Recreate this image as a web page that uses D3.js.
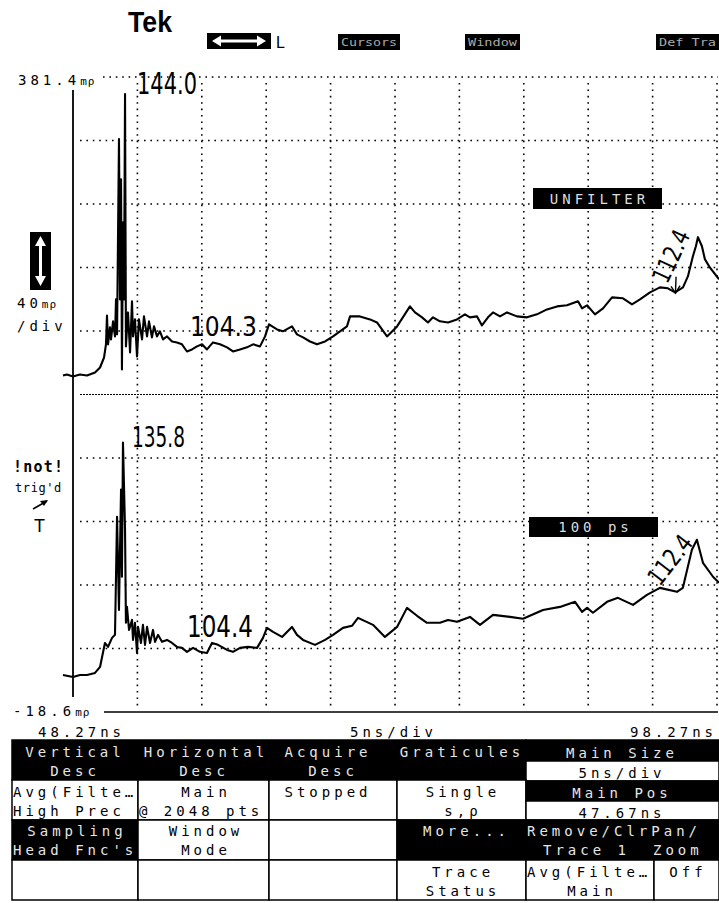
<!DOCTYPE html>
<html>
<head>
<meta charset="utf-8">
<script src="https://cdn.jsdelivr.net/npm/d3@7"></script>
<style>
  body { margin: 0; background: #fff; }
  svg { display: block; }
  text { font-family: "DejaVu Sans Mono", monospace; }
</style>
</head>
<body>
<svg id="scope" width="719" height="903"></svg>
<script>
// graticule: 5 ns/div horizontally, 40 mρ/div vertically
const timeGrid = [48.27, 53.27, 58.27, 63.27, 68.27, 73.27, 78.27, 83.27, 88.27, 93.27, 98.27];
const levelGrid = [-18.6, 21.4, 61.4, 101.4, 141.4, 181.4, 221.4, 261.4, 301.4, 341.4, 381.4];

// upper trace (UNFILTER): time ns, level mρ
const topTime = [47.49, 47.80, 48.27, 48.81, 49.36, 49.98, 50.37, 50.68, 50.83, 50.91, 50.99, 51.14, 51.22, 51.38, 51.53,
  51.61, 51.69, 51.84, 51.92, 52.00, 52.07, 52.15, 52.23, 52.31, 52.38, 52.54, 52.70, 52.85, 52.93, 53.08, 53.24, 53.39,
  53.63, 53.78, 54.02, 54.17, 54.40, 54.56, 54.79, 55.02, 55.26, 55.57, 55.96, 56.34, 56.73, 57.12, 57.51, 57.90, 58.29,
  58.67, 59.14, 59.68, 60.23, 60.69, 61.24, 61.78, 62.25, 62.79, 63.18, 63.49, 64.11, 64.57, 65.27, 65.66, 66.13, 66.67,
  67.21, 67.84, 68.46, 69.00, 69.54, 69.78, 70.55, 71.33, 71.87, 72.65,
  73.43, 74.43, 74.82, 75.37, 75.83, 76.22, 76.76, 77.39, 78.08, 78.70, 79.09, 79.64, 80.02, 80.49, 80.88, 81.42, 81.97,
  82.74, 83.52, 84.29, 85.07, 85.85, 86.62, 87.48, 87.79, 88.18, 88.80, 89.42, 90.12, 90.97, 91.67, 92.29, 93.07, 93.84,
  94.46, 95.01, 95.63, 96.01, 96.40, 96.63, 96.79, 97.10, 97.33, 97.71, 98.43];
const topLevel = [193.4, 194.0, 192.8, 194.0, 193.4, 195.3, 198.4, 204.7, 213.0, 231.2, 213.0, 223.7, 216.1, 227.5, 218.0,
  241.3, 219.3, 342.3, 241.3, 317.0, 197.2, 289.9, 241.3, 370.7, 211.7, 233.1, 207.9, 240.1, 218.0, 228.7, 205.4, 228.7,
  216.1, 230.6, 218.0, 227.5, 217.4, 224.3, 218.0, 221.2, 216.1, 218.0, 214.8, 214.2, 213.0, 208.5, 209.8, 211.7, 213.0,
  209.8, 214.2, 213.0, 211.1, 208.5, 209.8, 211.1, 213.0, 211.7, 218.0, 225.6, 222.4, 221.2, 224.3, 219.3, 217.4, 214.8,
  213.0, 214.8, 218.0, 221.2, 224.3, 230.6, 230.6, 228.7, 226.8, 218.0,
  224.3, 236.9, 233.1, 230.0, 226.8, 230.0, 227.5, 226.8, 228.7, 231.9, 230.0, 230.6, 224.9, 230.0, 233.1, 230.6, 233.1,
  230.6, 230.0, 231.9, 235.0, 236.9, 237.6, 240.1, 235.7, 237.6, 231.9, 235.7, 242.6, 242.0, 238.2, 241.3, 245.7, 248.9,
  248.3, 245.7, 248.9, 255.8, 268.5, 274.8, 280.5, 274.8, 266.6, 261.5, 254.0];

// lower trace (100 ps filter)
const lowTime = [47.49, 48.27, 48.81, 49.36, 49.98, 50.37, 50.75, 50.99, 51.30, 51.53, 51.69, 51.84, 52.00, 52.07, 52.15,
  52.31, 52.38, 52.46, 52.62, 52.85, 52.93, 53.08, 53.24, 53.32, 53.55, 53.70, 53.86, 54.02, 54.25, 54.48, 54.64, 54.87,
  55.18, 55.57, 55.96, 56.34, 56.73, 57.12, 57.59, 58.13, 58.67, 59.06, 59.53, 60.23, 60.69, 61.24, 61.86, 62.56, 63.02,
  63.33, 63.80, 64.50, 65.27, 65.66, 66.13, 67.06, 67.84, 68.46, 69.23, 69.93, 70.40, 71.56, 72.49, 73.43, 74.20, 74.98,
  75.75, 76.76, 77.39, 78.08, 79.09, 79.87, 80.88, 82.20, 83.21, 84.76, 86.08, 87.25, 87.79, 88.18, 88.64, 89.73, 90.58,
  91.75, 92.83, 93.84, 95.16, 95.62, 96.32, 96.71, 97.18, 97.96, 98.43];
const lowLevel = [4.7, 3.5, 4.7, 4.7, 6.0, 9.8, 24.9, 22.4, 28.1, 30.0, 104.4, 45.7, 121.5, 66.6, 151.1,
  96.2, 37.6, 47.6, 33.1, 39.4, 26.8, 37.6, 18.6, 35.0, 24.9, 36.3, 23.7, 35.0, 24.9, 33.1, 25.6, 30.0,
  25.6, 26.8, 24.9, 22.4, 21.8, 19.3, 21.8, 19.3, 18.6, 24.9, 23.7, 20.5, 19.3, 21.8, 22.4, 21.8, 28.1,
  34.4, 31.9, 28.7, 35.0, 30.0, 26.8, 23.7, 26.8, 30.0, 34.4, 35.7, 40.7, 36.3, 28.7, 35.0, 47.0, 42.0,
  37.6, 37.6, 39.4, 38.2, 41.3, 36.3, 42.6, 41.3, 40.1, 45.7, 47.6, 50.8, 44.5, 47.0, 43.9, 50.8, 53.3,
  48.9, 55.2, 59.6, 57.1, 59.6, 83.6, 89.9, 75.4, 66.6, 62.8];

// handwritten readings on the print
const noteText = ["144.0", "104.3", "112.4", "135.8", "104.4", "112.4"];
const noteTime = [53.24, 57.35, 94.70, 52.85, 57.12, 94.62];
const noteLevel = [370.7, 218.0, 268.5, 148.6, 28.7, 77.3];

const svg = d3.select("#scope");

const x = d3.scaleLinear().domain([timeGrid[0], timeGrid[10]]).range([73, 717]);
const y = d3.scaleLinear().domain([levelGrid[0], levelGrid[10]]).range([712, 77]);

// ---------- header ----------
svg.append("text").attr("x", 128).attr("y", 32)
  .attr("textLength", 44).attr("lengthAdjust", "spacingAndGlyphs")
  .style("font-family", "'Liberation Sans', Arial, sans-serif").style("font-weight", "bold")
  .style("font-size", "29px").text("Tek");

svg.append("rect").attr("x", 207).attr("y", 33).attr("width", 64).attr("height", 16).attr("fill", "#000");
svg.append("path").attr("fill", "#fff")
  .attr("d", "M212,41 L221,35.5 L221,39.5 L257,39.5 L257,35.5 L266,41 L257,46.5 L257,42.5 L221,42.5 L221,46.5 Z");
svg.append("text").attr("x", 276).attr("y", 48)
  .style("font-family", "'Liberation Sans', Arial, sans-serif").style("font-size", "16px").text("L");

const softKeys = [["Cursors", 338, 62], ["Window", 465, 55], ["Def Tra", 656, 63]];
softKeys.forEach(([t, x0, w]) => {
  svg.append("rect").attr("x", x0).attr("y", 34).attr("width", w).attr("height", 16).attr("fill", "#000");
  svg.append("text").attr("x", x0 + 3).attr("y", 46).attr("fill", "#aaa")
    .attr("textLength", w - 6).attr("lengthAdjust", "spacingAndGlyphs")
    .style("font-size", "11px").text(t);
});

// ---------- graticule ----------
const grid = svg.append("g");
grid.selectAll("line.v").data(timeGrid.slice(1)).enter().append("line")
  .attr("x1", d => x(d)).attr("x2", d => x(d))
  .attr("y1", y(levelGrid[10]) + 6).attr("y2", y(levelGrid[0]) - 5)
  .attr("stroke", "#000").attr("stroke-width", 1.6).attr("stroke-dasharray", "1.6 4.8");

grid.selectAll("line.h").data(levelGrid.slice(1)).enter().append("line")
  .attr("x1", d => d === levelGrid[10] ? 103 : 80).attr("x2", x(timeGrid[10]) + 1)
  .attr("y1", d => y(d)).attr("y2", d => y(d))
  .attr("stroke", "#000")
  .attr("stroke-width", d => d === levelGrid[5] ? 1 : 1.6)
  .attr("stroke-dasharray", d => d === levelGrid[5] ? "2 1" : "1.6 4.8");

// left edge and bottom edge
grid.append("line").attr("x1", x(timeGrid[0])).attr("x2", x(timeGrid[0]))
  .attr("y1", 90).attr("y2", 697).attr("stroke", "#000").attr("stroke-width", 1.8);
grid.append("line").attr("x1", 104).attr("x2", x(timeGrid[10]) + 1)
  .attr("y1", y(levelGrid[0])).attr("y2", y(levelGrid[0])).attr("stroke", "#000").attr("stroke-width", 1.4);

// ---------- traces ----------
const line = d3.line().x(d => x(d[0])).y(d => y(d[1]));
const traces = [d3.zip(topTime, topLevel), d3.zip(lowTime, lowLevel)];
svg.selectAll("path.trace").data(traces).enter().append("path")
  .attr("class", "trace")
  .attr("d", line)
  .attr("fill", "none").attr("stroke", "#000").attr("stroke-width", 2.1)
  .attr("stroke-linejoin", "round");

// ---------- scale readouts ----------
function readout(num, unit, x0, yb) {
  const t = svg.append("text").attr("x", x0).attr("y", yb).style("font-size", "14px").style("letter-spacing", "4px");
  t.append("tspan").text(num);
  if (unit) t.append("tspan").style("font-size", "11px").style("letter-spacing", "1px").text(unit);
  return t;
}
readout("381.4", "mρ", 18, 85);
readout("-18.6", "mρ", 13, 716);
readout("40", "mρ", 17, 308);
readout("/div", null, 17, 331);
readout("48.27ns", null, 38, 737);
readout("5ns/div", null, 350, 737);
readout("98.27ns", null, 630, 737);

// vertical arrow icon
svg.append("rect").attr("x", 30).attr("y", 232).attr("width", 21).attr("height", 58).attr("fill", "#000");
svg.append("path").attr("fill", "#fff")
  .attr("d", "M40.5,236 L46,246 L42,246 L42,276 L46,276 L40.5,286 L35,276 L39,276 L39,246 L35,246 Z");

// trigger status
svg.append("text").attr("x", 13).attr("y", 472).style("font-size", "15px").style("font-weight", "bold")
  .style("letter-spacing", "1.2px").text("!not!");
svg.append("text").attr("x", 15).attr("y", 492).style("font-size", "12px").style("letter-spacing", "0.6px").text("trig'd");
svg.append("path").attr("d", "M33,509 L47,501").attr("stroke", "#000").attr("stroke-width", 1.6);
svg.append("path").attr("d", "M48,500 L40,501 L44,506 Z").attr("fill", "#000");
svg.append("text").attr("x", 34).attr("y", 532)
  .style("font-family", "'Liberation Sans', Arial, sans-serif").style("font-size", "18px").text("T");

// trace labels
[["UNFILTER", 533, 188, 129, 21], ["100 ps", 529, 517, 129, 20]].forEach(([t, x0, y0, w, h]) => {
  svg.append("rect").attr("x", x0).attr("y", y0).attr("width", w).attr("height", h).attr("fill", "#000");
  svg.append("text").attr("x", x0 + w / 2 + 2).attr("y", y0 + h - 5).attr("text-anchor", "middle")
    .attr("fill", "#ddd").style("font-size", "14px").style("letter-spacing", "4px").text(t);
});

// ---------- handwritten notes ----------
const noteRot = [0, 0, -65, 0, 0, -52];
const noteSize = [30, 27, 25, 28, 30, 25];
const noteLen = [60, 67, 55, 53, 66, 56];
noteText.forEach((t, i) => {
  const px = x(noteTime[i]), py = y(noteLevel[i]);
  const rotated = noteRot[i] !== 0;
  svg.append("text")
    .attr("transform", `translate(${px},${py}) rotate(${noteRot[i]})`)
    .attr("text-anchor", rotated ? "middle" : "start")
    .attr("dy", rotated ? "0.35em" : 0)
    .attr("textLength", noteLen[i]).attr("lengthAdjust", "spacingAndGlyphs")
    .attr("fill", "#000")
    .style("font-family", "'DejaVu Sans', sans-serif").style("font-weight", "normal")
    .style("font-size", noteSize[i] + "px").text(t);
});
svg.append("path").attr("d", `M${x(95.09)},${y(255.6)} L${x(95.05)},${y(246.5)}`)
  .attr("stroke", "#000").attr("stroke-width", 1.4).attr("fill", "none");
svg.append("path").attr("d", `M${x(95.09) - 5},${y(249.5)} L${x(95.05)},${y(245.2)} L${x(95.09) + 4},${y(250)}`)
  .attr("stroke", "#000").attr("stroke-width", 1.4).attr("fill", "none");

// ---------- menu ----------
const menu = svg.append("g");
// [x0, x1, y0, y1, dark]
const menuBoxes = [
  [12, 526, 740, 780, true], [526, 719, 740, 761, true], [526, 719, 761, 781, false],
  [12, 138, 780, 820, false], [138, 269, 780, 820, false], [269, 397, 780, 820, false], [397, 526, 780, 820, false],
  [526, 719, 781, 801, true], [526, 719, 801, 820, false],
  [12, 138, 820, 860, true], [138, 269, 820, 860, false], [269, 397, 820, 860, false], [397, 719, 820, 860, true],
  [12, 138, 860, 900, false], [138, 269, 860, 900, false], [269, 397, 860, 900, false], [397, 526, 860, 900, false],
  [526, 654, 860, 900, false], [654, 719, 860, 900, false]
];
menu.selectAll("rect").data(menuBoxes).enter().append("rect")
  .attr("x", d => d[0]).attr("y", d => d[2]).attr("width", d => d[1] - d[0]).attr("height", d => d[3] - d[2])
  .attr("fill", d => d[4] ? "#000" : "#fff").attr("stroke", "#000").attr("stroke-width", 1.5);

// [text, x, baseline, anchor, dark]
const menuText = [
  ["Vertical", 75, 757, "middle", true], ["Desc", 75, 776, "middle", true],
  ["Horizontal", 206, 757, "middle", true], ["Desc", 204, 776, "middle", true],
  ["Acquire", 328, 757, "middle", true], ["Desc", 333, 776, "middle", true],
  ["Graticules", 462, 757, "middle", true],
  ["Main Size", 622, 758, "middle", true], ["5ns/div", 622, 778, "middle", false],
  ["Avg(Filte…", 13, 797, "start", false], ["High Prec", 13, 816, "start", false],
  ["Main", 206, 797, "middle", false], ["@ 2048 pts", 139, 816, "start", false],
  ["Stopped", 328, 797, "middle", false],
  ["Single", 463, 797, "middle", false], ["s,ρ", 463, 816, "middle", false],
  ["Main Pos", 622, 798, "middle", true], ["47.67ns", 622, 818, "middle", false],
  ["Sampling", 77, 836, "middle", true], ["Head Fnc's", 13, 855, "start", true],
  ["Window", 206, 836, "middle", false], ["Mode", 206, 855, "middle", false],
  ["More...", 423, 836, "start", true], ["Remove/ClrPan/", 527, 836, "start", true],
  ["Trace 1", 543, 855, "start", true], ["Zoom", 653, 855, "start", true],
  ["Trace", 463, 877, "middle", false], ["Status", 463, 896, "middle", false],
  ["Avg(Filte…", 527, 877, "start", false], ["Main", 592, 896, "middle", false],
  ["Off", 688, 877, "middle", false]
];
menu.selectAll("text").data(menuText).enter().append("text")
  .attr("x", d => d[1]).attr("y", d => d[2]).attr("text-anchor", d => d[3])
  .attr("fill", d => d[4] ? "#e6e6e6" : "#000")
  .style("font-size", "14px").style("letter-spacing", "4px")
  .text(d => d[0]);
</script>
</body>
</html>
